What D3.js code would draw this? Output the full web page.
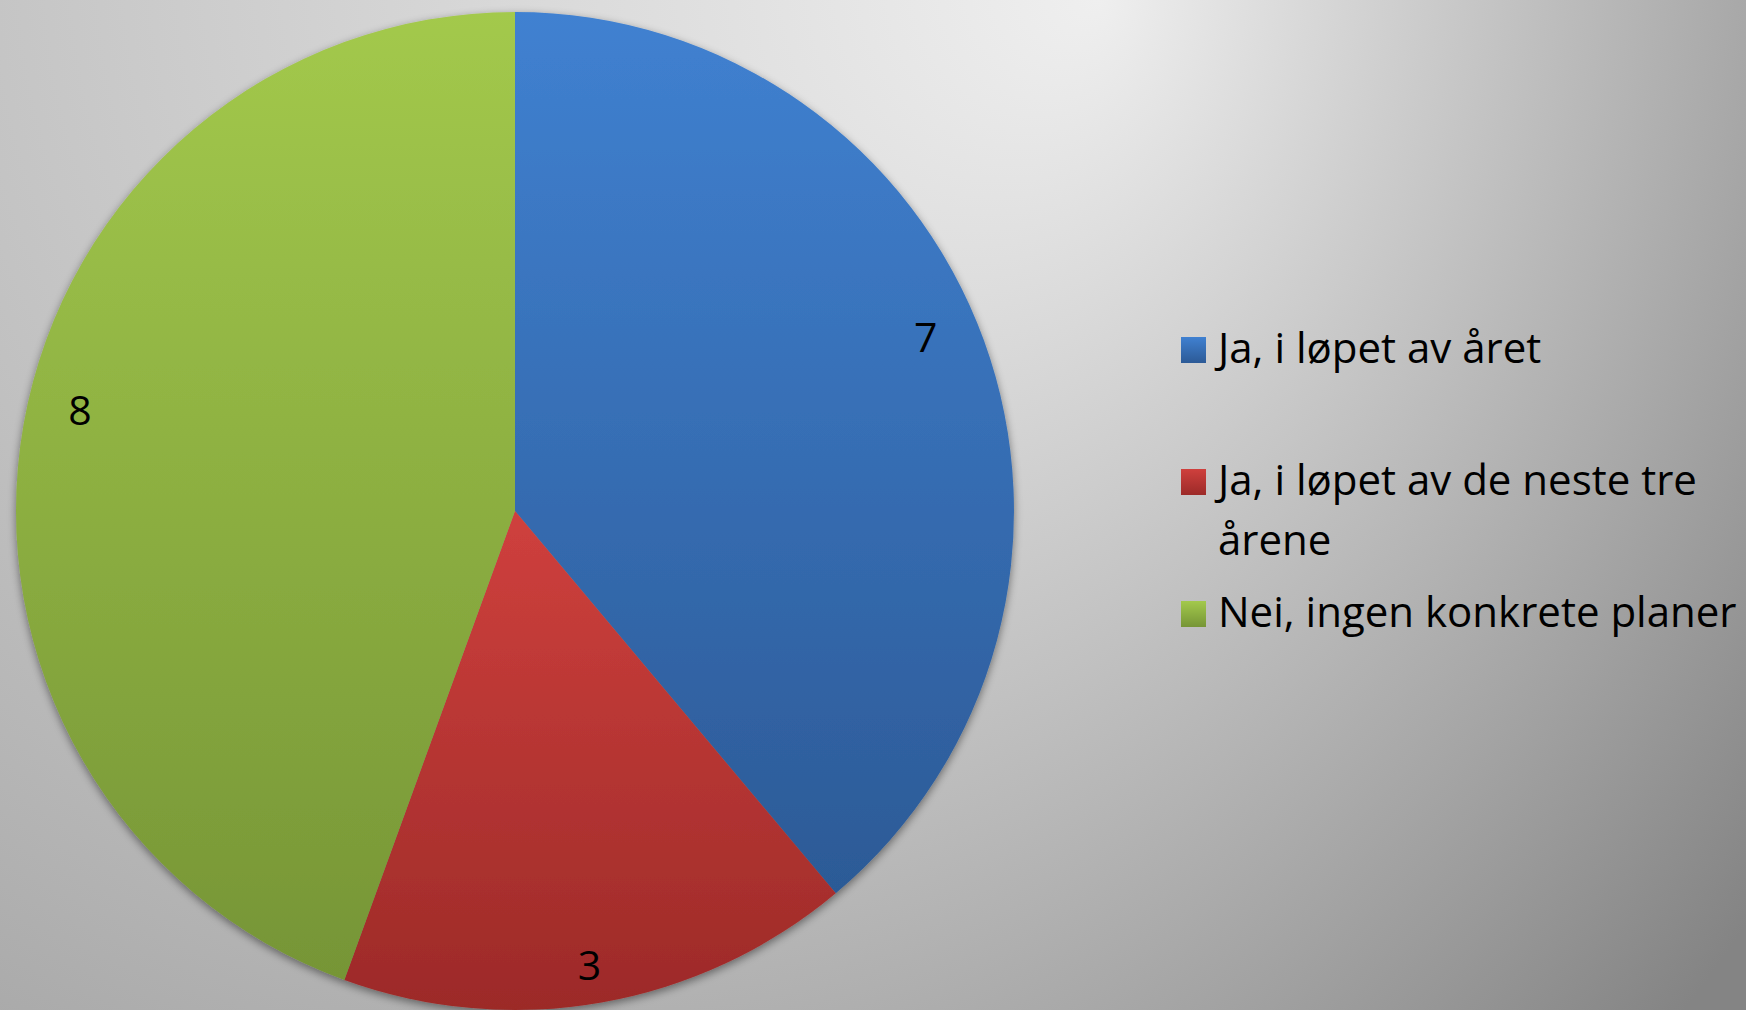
<!DOCTYPE html>
<html>
<head>
<meta charset="utf-8">
<script src="https://cdn.jsdelivr.net/npm/d3@7"></script>
<style>
  html, body { margin: 0; padding: 0; overflow: hidden; }
  svg { display: block; }
</style>
</head>
<body>
<svg id="chart" width="1746" height="1010"></svg>
<script>
const categories = ["Ja, i løpet av året", "Ja, i løpet av de neste tre årene", "Nei, ingen konkrete planer"];
const legendLines = [["Ja, i løpet av året"], ["Ja, i løpet av de neste tre", "årene"], ["Nei, ingen konkrete planer"]];
const values = [7, 3, 8];
const topColors = ["#4081d1", "#cf403d", "#a3c94c"];
const bottomColors = ["#2c5a96", "#9c2a28", "#769536"];

const W = 1746, H = 1010;
const cx = 515, cy = 511, R = 499;
// small placement nudges for the data labels (Excel "best fit" placement)
const labelNudge = [[-14, -19], [-4, 9], [10, -22]];

const svg = d3.select("#chart");
const defs = svg.append("defs");

const bg = defs.append("radialGradient").attr("id", "bg")
  .attr("gradientUnits", "userSpaceOnUse")
  .attr("cx", 180).attr("cy", -150).attr("r", 1900)
  .attr("fx", 1100).attr("fy", 0);
bg.append("stop").attr("offset", 0).attr("stop-color", "#efefef");
bg.append("stop").attr("offset", 1).attr("stop-color", "#848484");

svg.append("rect").attr("width", W).attr("height", H).attr("fill", "url(#bg)");

categories.forEach((c, i) => {
  const g = defs.append("linearGradient").attr("id", "g" + i)
    .attr("x1", 0).attr("y1", 0).attr("x2", 0).attr("y2", 1);
  g.append("stop").attr("offset", 0).attr("stop-color", topColors[i]);
  g.append("stop").attr("offset", 1).attr("stop-color", bottomColors[i]);
});

const shadow = defs.append("filter").attr("id", "shadow")
  .attr("x", "-10%").attr("y", "-10%").attr("width", "120%").attr("height", "120%");
shadow.append("feDropShadow").attr("dx", 0).attr("dy", 3).attr("stdDeviation", 4)
  .attr("flood-color", "#000").attr("flood-opacity", 0.45);

const pie = d3.pie().sort(null).value(d => d);
const arcs = pie(values);
const arc = d3.arc().innerRadius(0).outerRadius(R);
const labelArc = d3.arc().innerRadius(452).outerRadius(452);

const g = svg.append("g").attr("transform", `translate(${cx},${cy})`);

g.append("g").attr("filter", "url(#shadow)")
  .selectAll("path").data(arcs).join("path")
  .attr("d", arc)
  .attr("fill", (d, i) => `url(#g${i})`);

g.selectAll("text.lbl").data(arcs).join("text")
  .attr("class", "lbl")
  .attr("transform", (d, i) => {
    const [x, y] = labelArc.centroid(d);
    return `translate(${x + labelNudge[i][0]},${y + labelNudge[i][1]})`;
  })
  .attr("text-anchor", "middle")
  .attr("dy", "0.36em")
  .attr("font-family", "'Open Sans', sans-serif")
  .attr("font-size", 41)
  .attr("fill", "#000")
  .text(d => d.data);

const legendY = [363, 495, 627];
const lg = svg.append("g");
legendLines.forEach((lines, i) => {
  lg.append("rect").attr("x", 1181).attr("y", legendY[i] - 26)
    .attr("width", 25).attr("height", 26)
    .attr("fill", `url(#g${i})`);
  const t = lg.append("text")
    .attr("x", 1218).attr("y", legendY[i])
    .attr("font-family", "'Open Sans', sans-serif")
    .attr("font-size", 42)
    .attr("fill", "#000");
  lines.forEach((ln, j) => {
    t.append("tspan").attr("x", 1218).attr("dy", j === 0 ? 0 : 60).text(ln);
  });
});
</script>
</body>
</html>
